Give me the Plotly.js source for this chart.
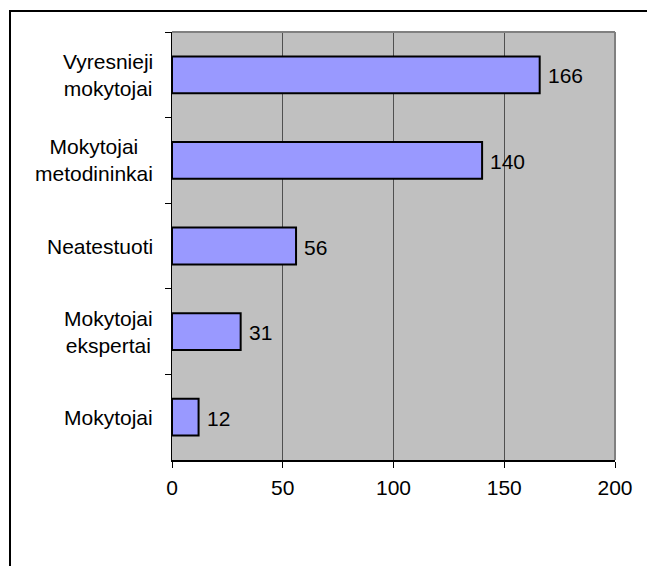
<!DOCTYPE html>
<html>
<head>
<meta charset="utf-8">
<script src="https://cdn.plot.ly/plotly-3.0.1.min.js"></script>
<style>
  html, body { margin: 0; padding: 0; background: #fff; overflow: hidden; }
  #wrap { position: relative; width: 647px; height: 566px; overflow: hidden; }
  #chart { position: absolute; left: 0; top: 0; width: 647px; height: 566px; }
  #frame { position: absolute; left: 9px; top: 10px; width: 700px; height: 700px;
           border: 2px solid #000; pointer-events: none; }
</style>
</head>
<body>
<div id="wrap">
  <div id="chart"></div>
  <div id="frame"></div>
</div>
<script>
const categories = [
  'Vyresnieji<br>mokytojai',
  'Mokytojai<br>metodininkai',
  'Neatestuoti',
  'Mokytojai<br>ekspertai',
  'Mokytojai'
];
const values = [166, 140, 56, 31, 12];
const xTickValues = [0, 50, 100, 150, 200];

const FONT = '"Liberation Sans", Arial, sans-serif';
const FS = 21;

const trace = {
  type: 'bar',
  orientation: 'h',
  x: values,
  y: categories,
  marker: { color: '#9999FF', line: { color: '#000000', width: 2 } },
  hoverinfo: 'none'
};

const annotations = [];
categories.forEach((c, i) => {
  annotations.push({
    xref: 'paper', yref: 'y', x: 0, y: c,
    text: c, showarrow: false, xanchor: 'right', yanchor: 'middle',
    align: 'center', xshift: -17,
    font: { family: FONT, size: FS, color: '#000' }
  });
  annotations.push({
    xref: 'x', yref: 'y', x: values[i], y: c,
    text: String(values[i]), showarrow: false, xanchor: 'left', yanchor: 'middle',
    xshift: 6, yshift: -1,
    font: { family: FONT, size: FS, color: '#000' }
  });
});

const layout = {
  width: 647, height: 566,
  margin: { l: 172, r: 32, t: 32, b: 106, pad: 0 },
  paper_bgcolor: 'rgba(0,0,0,0)',
  plot_bgcolor: '#C0C0C0',
  showlegend: false,
  bargap: 0.57,
  font: { family: FONT, size: FS, color: '#000' },
  xaxis: {
    range: [0, 200],
    tickvals: xTickValues,
    ticktext: xTickValues.map(String),
    showgrid: true, gridcolor: '#505050', gridwidth: 1,
    zeroline: false,
    showline: true, linecolor: '#000', linewidth: 1.5,
    ticks: 'outside', ticklen: 6, tickcolor: '#000', tickwidth: 1,
    ticklabelstandoff: 2,
    tickfont: { family: FONT, size: FS, color: '#000' },
    fixedrange: true
  },
  yaxis: {
    type: 'category',
    autorange: 'reversed',
    showgrid: false, zeroline: false,
    showline: true, linecolor: '#000', linewidth: 1.5,
    ticks: 'outside', ticklen: 6, tickcolor: '#000', tickwidth: 1,
    tickson: 'boundaries',
    showticklabels: false,
    fixedrange: true
  },
  shapes: [
    { type: 'line', xref: 'paper', yref: 'paper', x0: 0, x1: 1, y0: 1, y1: 1,
      line: { color: '#808080', width: 2 } },
    { type: 'line', xref: 'paper', yref: 'paper', x0: 1, x1: 1, y0: 0, y1: 1,
      line: { color: '#808080', width: 2 } }
  ],
  annotations: annotations
};

Plotly.newPlot('chart', [trace], layout, { staticPlot: true, displayModeBar: false });
</script>
</body>
</html>
